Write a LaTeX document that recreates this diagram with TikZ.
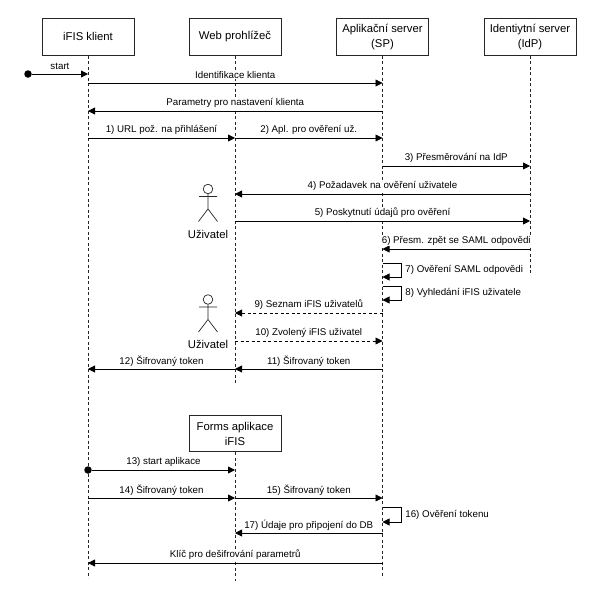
\documentclass[tikz,border=0pt]{standalone}
\usepackage{fontspec}
\setmainfont{Liberation Sans}
\usetikzlibrary{arrows.meta}
\tikzset{
  party/.style={draw=black!85,line width=0.9pt,minimum width=92pt,minimum height=36.5pt,inner sep=0pt,align=center,font=\fontsize{11.3}{15}\selectfont},
  life/.style={line width=0.8pt,dash pattern=on 3pt off 2.5pt,black!85},
  msg/.style={line width=0.8pt,-{Triangle[length=7pt,width=7pt]}},
  reply/.style={msg,dash pattern=on 3pt off 2.5pt},
  lab/.style={font=\fontsize{9.75}{11}\selectfont,inner sep=0.6pt,fill=white,yshift=8pt},
  side/.style={font=\fontsize{9.75}{11}\selectfont,inner sep=0pt,right=4pt},
  dot/.style={circle,fill=black,inner sep=0pt,minimum size=7.5pt},
  userlabel/.style={font=\fontsize{11.3}{13}\selectfont,inner sep=0pt}
}
\begin{document}
\begin{tikzpicture}[x=1pt,y=-1pt]
\useasboundingbox (0,0) rectangle (595,600);
% headers
\node[party] (klient) at (88,36.8) {iFIS klient};
\node[party] (web) at (235,36.8) {Web prohlížeč};
\node[party] (sp) at (382.5,36.8) {Aplikační server\\(SP)};
\node[party] (idp) at (530,36.8) {Identiytní server\\(IdP)};
\node[party] (forms) at (235,433.5) {Forms aplikace\\iFIS};
% lifeline points
\foreach \y in {74,83,111,138,369,470,498,563,578}{\coordinate (k\y) at (88,\y);}
\foreach \y in {138,194,221,313,341,369,385,470,498,533,581}{\coordinate (w\y) at (235,\y);}
\foreach \y in {83,111,138,166,194,221,249,263,277,286,300,313,341,369,498,507,522,533,563,578}{\coordinate (s\y) at (382.5,\y);}
\foreach \y in {166,194,221,249,275}{\coordinate (i\y) at (530,\y);}
% lifelines
\draw[life] (klient) -- (k578);
\draw[life] (web) -- (w385);
\draw[life] (forms) -- (w581);
\draw[life] (sp) -- (s578);
\draw[life] (idp) -- (i275);
% first part
\node[dot] (startdot) at (28,74) {};
\draw[msg] (startdot) -- node[lab] (m0) {start} (k74);
\draw[msg] (k83) -- node[lab] (ma) {Identifikace klienta} (s83);
\draw[msg] (s111) -- node[lab] (mb) {Parametry pro nastavení klienta} (k111);
\draw[msg] (k138) -- node[lab] (m1) {1) URL pož. na přihlášení} (w138);
\draw[msg] (w138) -- node[lab] (m2) {2) Apl. pro ověření už.} (s138);
\draw[msg] (s166) -- node[lab] (m3) {3) Přesměrování na IdP} (i166);
\draw[msg] (i194) -- node[lab] (m4) {4) Požadavek na ověření uživatele} (w194);
\draw[msg] (w221) -- node[lab] (m5) {5) Poskytnutí údajů pro ověření} (i221);
\draw[msg] (i249) -- node[lab] (m6) {6) Přesm. zpět se SAML odpovědi} (s249);
\draw[msg] (s263) -- ++(18.5,0) -- node[side] (m7) {7) Ověření SAML odpovědi} ++(0,14) -- (s277);
\draw[msg] (s286) -- ++(18.5,0) -- node[side] (m8) {8) Vyhledání iFIS uživatele} ++(0,14) -- (s300);
\draw[reply] (s313) -- node[lab] (m9) {9) Seznam iFIS uživatelů} (w313);
\draw[reply] (w341) -- node[lab] (m10) {10) Zvolený iFIS uživatel} (s341);
\draw[msg] (s369) -- node[lab] (m11) {11) Šifrovaný token} (w369);
\draw[msg] (w369) -- node[lab] (m12) {12) Šifrovaný token} (k369);
% users
\foreach \n/\y in {a/189,b/299.5}{
  \draw[line width=0.7pt,black!85] (208,\y) circle (4.8);
  \draw[line width=0.7pt,black!85] (199,\y+7.5) -- (217,\y+7.5) (208,\y+4.8) -- (208,\y+20) (198.5,\y+32.5) -- (208,\y+20) -- (217.5,\y+32.5);
}
\node[userlabel] (usera) at (208,234) {Uživatel};
\node[userlabel] (userb) at (208,344.5) {Uživatel};
% second part
\node[dot] (appdot) at (k470) {};
\draw[msg] (appdot) -- node[lab] (m13) {13) start aplikace} (w470);
\draw[msg] (k498) -- node[lab] (m14) {14) Šifrovaný token} (w498);
\draw[msg] (w498) -- node[lab] (m15) {15) Šifrovaný token} (s498);
\draw[msg] (s507) -- ++(18.5,0) -- node[side] (m16) {16) Ověření tokenu} ++(0,15) -- (s522);
\draw[msg] (s533) -- node[lab] (m17) {17) Údaje pro připojení do DB} (w533);
\draw[msg] (s563) -- node[lab] (mc) {Klíč pro dešifrování parametrů} (k563);
\end{tikzpicture}
\end{document}
